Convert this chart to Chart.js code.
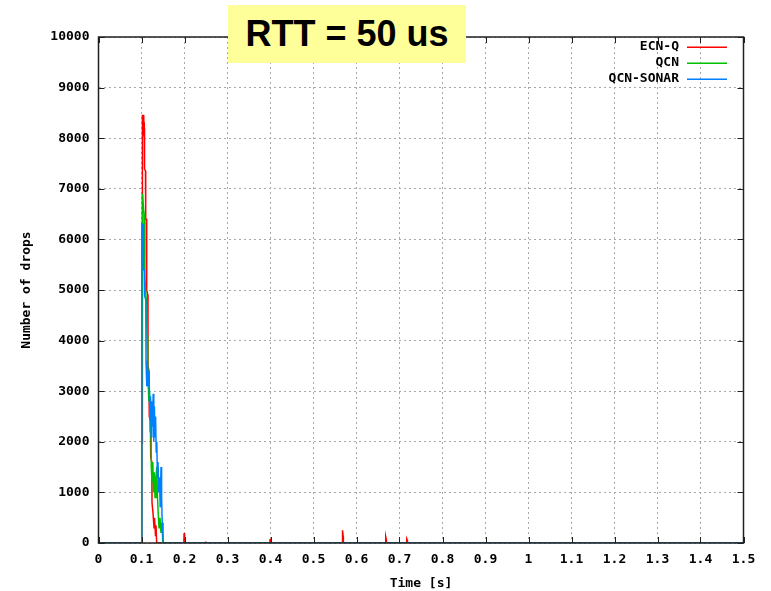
<!DOCTYPE html>
<html>
<head>
<meta charset="utf-8">
<script src="https://cdn.jsdelivr.net/npm/chart.js@4/dist/chart.umd.min.js"></script>
<style>
  html, body { margin: 0; padding: 0; background: #ffffff; }
  #wrap { position: relative; width: 771px; height: 591px; }
  #c { position: absolute; left: 0; top: 0; }
  #title {
    position: absolute; left: 228px; top: 5px; width: 238px; height: 58px;
    background: #ffff99; z-index: 2;
    font-family: "Liberation Sans", Arial, sans-serif; font-weight: bold;
    font-size: 36px; line-height: 58px; text-align: center; color: #000;
  }
</style>
</head>
<body>
<div id="wrap">
  <canvas id="c" width="771" height="591"></canvas>
  <div id="title">RTT = 50 us</div>
</div>
<script>
const seriesNames = ['ECN-Q', 'QCN', 'QCN-SONAR'];
const seriesColors = ['#ff0000', '#00c000', '#0080ff'];
const xTickLabels = ['0','0.1','0.2','0.3','0.4','0.5','0.6','0.7','0.8','0.9','1','1.1','1.2','1.3','1.4','1.5'];
const yTickLabels = ['0','1000','2000','3000','4000','5000','6000','7000','8000','9000','10000'];
const xTitle = 'Time [s]';
const yTitle = 'Number of drops';

const redT = [0, 0.1010, 0.1012, 0.1015, 0.1019, 0.1028, 0.1047, 0.1053, 0.1065, 0.1070, 0.1093, 0.1098, 0.1116, 0.1121, 0.1147, 0.1151, 0.1174, 0.1181, 0.1209, 0.1214, 0.1240, 0.1244, 0.1267, 0.1291, 0.1302, 0.1326, 0.1337, 0.1353, 0.1985, 0.1990, 0.2000, 0.2005, 0.2490, 0.2495, 0.2500, 0.3985, 0.3990, 0.4000, 0.4005, 0.5665, 0.5670, 0.5680, 0.5690, 0.5695, 0.6670, 0.6680, 0.6690, 0.6695, 0.7165, 0.7170, 0.7180, 0.7185, 1.5];
const redV = [0, 0, 3000, 1950, 3000, 8450, 8450, 8150, 8200, 7400, 7350, 6400, 6400, 5000, 4900, 3500, 3400, 2500, 2400, 1700, 1600, 800, 600, 300, 500, 150, 350, 0, 0, 190, 200, 0, 0, 30, 0, 0, 80, 60, 0, 0, 120, 250, 130, 0, 0, 120, 80, 0, 0, 80, 60, 0, 0];

const greenT = [0, 0.10047, 0.10048, 0.1026, 0.1047, 0.1063, 0.1077, 0.1093, 0.1112, 0.1128, 0.1140, 0.1151, 0.1170, 0.1186, 0.1202, 0.1216, 0.1228, 0.1244, 0.1263, 0.1279, 0.1298, 0.1314, 0.1337, 0.1356, 0.1372, 0.1388, 0.1407, 0.1430, 0.1453, 0.1477, 0.1495, 1.5];
const greenV = [0, 0, 2000, 6900, 6600, 6500, 5300, 5000, 4800, 4100, 3900, 3500, 2800, 3000, 2200, 2600, 1500, 1200, 1600, 1000, 1400, 900, 1300, 1500, 900, 600, 300, 500, 200, 400, 0, 0];

const blueT = [0, 0.10047, 0.10070, 0.10419, 0.10465, 0.10651, 0.10698, 0.11000, 0.11047, 0.11233, 0.11395, 0.11581, 0.11744, 0.11930, 0.12093, 0.12256, 0.12395, 0.12558, 0.12721, 0.12860, 0.13000, 0.13140, 0.13279, 0.13419, 0.13558, 0.13698, 0.13837, 0.14023, 0.14186, 0.14349, 0.14535, 0.14674, 0.14814, 0.14953, 0.15070, 1.5];
const blueV = [0, 0, 6300, 6300, 5400, 5400, 4900, 4800, 3600, 3100, 3500, 3100, 3400, 2600, 2900, 2100, 2800, 2300, 2950, 2000, 2700, 2100, 2500, 1800, 2000, 1300, 1600, 1000, 1300, 700, 1500, 900, 400, 200, 0, 0];

const seriesT = [redT, greenT, blueT];
const seriesV = [redV, greenV, blueV];

const FONT = '"DejaVu Sans Mono", "Liberation Mono", monospace';

const datasets = seriesNames.map((name, i) => ({
  label: name,
  data: seriesT[i].map((t, k) => ({ x: t, y: seriesV[i][k] })),
  borderColor: seriesColors[i],
  backgroundColor: seriesColors[i],
  borderWidth: 1.5,
  pointRadius: 0,
  tension: 0,
  fill: false,
  order: 2 - i
}));

const frame = {
  id: 'frame',
  afterDatasetsDraw(chart) {
    const ctx = chart.ctx, a = chart.chartArea;
    const xs = chart.scales.x, ys = chart.scales.y;
    ctx.save();
    ctx.setLineDash([]);
    ctx.strokeStyle = '#202020';
    ctx.lineWidth = 1;
    ctx.beginPath();
    xs.ticks.forEach(t => {
      const px = Math.round(xs.getPixelForValue(t.value)) + 0.5;
      ctx.moveTo(px, a.bottom); ctx.lineTo(px, a.bottom - 6);
      ctx.moveTo(px, a.top); ctx.lineTo(px, a.top + 6);
    });
    ys.ticks.forEach(t => {
      const py = Math.round(ys.getPixelForValue(t.value)) + 0.5;
      ctx.moveTo(a.left, py); ctx.lineTo(a.left + 6, py);
      ctx.moveTo(a.right, py); ctx.lineTo(a.right - 6, py);
    });
    ctx.stroke();
    ctx.lineWidth = 1.5;
    ctx.strokeRect(a.left, a.top, a.right - a.left, a.bottom - a.top);
    // legend
    ctx.font = 'bold 13px ' + FONT;
    ctx.textAlign = 'right';
    ctx.textBaseline = 'middle';
    const rows = [47, 63, 79];
    seriesNames.forEach((n, i) => {
      ctx.fillStyle = '#000';
      ctx.fillText(n, 679, rows[i]);
      ctx.fillStyle = seriesColors[i];
      ctx.fillRect(687, rows[i] - 0.5, 40, 1.5);
    });
    ctx.restore();
  }
};

new Chart(document.getElementById('c'), {
  type: 'line',
  data: { datasets },
  plugins: [frame],
  options: {
    responsive: false,
    animation: false,
    layout: { padding: { left: 0, right: 27.5, top: 37, bottom: 0 } },
    plugins: { legend: { display: false }, tooltip: { enabled: false }, title: { display: false } },
    scales: {
      x: {
        type: 'linear', min: 0, max: 1.5,
        afterFit(s) { s.height = 48; },
        ticks: {
          stepSize: 0.1, autoSkip: false, maxRotation: 0, padding: 9,
          color: '#000', font: { family: FONT, size: 13, weight: 'bold' },
          callback: (v, i) => xTickLabels[i]
        },
        grid: { color: '#a8a8a8', drawTicks: false, lineWidth: 1 },
        border: { display: false, dash: [2, 3] },
        title: { display: true, text: xTitle, color: '#000', padding: { top: 2, bottom: 0 },
                 font: { family: FONT, size: 13, weight: 'bold' } }
      },
      y: {
        type: 'linear', min: 0, max: 10000,
        afterFit(s) { s.width = 98.5; },
        ticks: {
          stepSize: 1000, autoSkip: false, padding: 9,
          color: '#000', font: { family: FONT, size: 13, weight: 'bold' },
          callback: (v, i) => yTickLabels[i]
        },
        grid: { color: '#a8a8a8', drawTicks: false, lineWidth: 1 },
        border: { display: false, dash: [2, 3] },
        title: { display: true, text: yTitle, color: '#000', padding: { top: 19, bottom: 0 },
                 font: { family: FONT, size: 13, weight: 'bold' } }
      }
    }
  }
});
</script>
</body>
</html>
